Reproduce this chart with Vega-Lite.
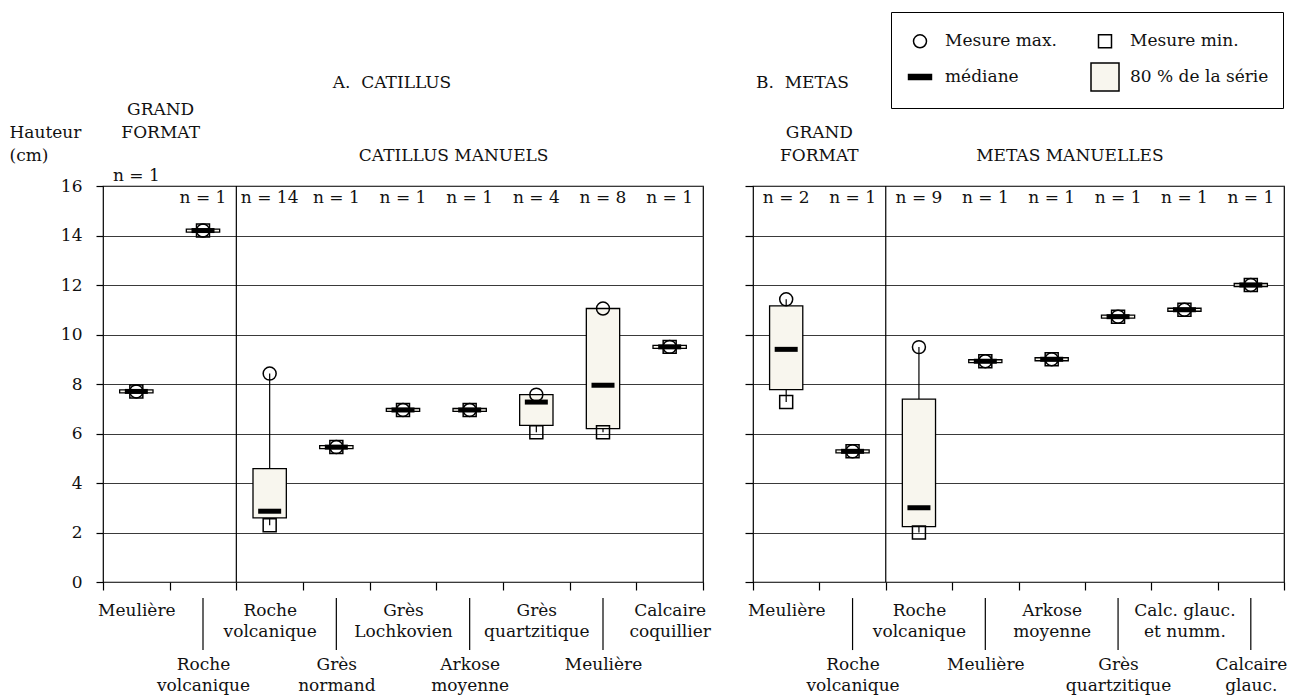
{
  "$schema": "https://vega.github.io/schema/vega-lite/v6.json",
  "background": "white",
  "padding": {"left": 8, "top": 10, "right": 4, "bottom": 4},
  "config": {
    "font": "DejaVu Serif",
    "view": {"stroke": "black", "strokeWidth": 1.2},
    "axis": {"labelFont": "DejaVu Serif", "titleFont": "DejaVu Serif", "labelColor": "#111", "titleColor": "#111", "tickColor": "black", "labelFontSize": 17, "titleFontSize": 17, "titleFontWeight": "normal", "gridColor": "#3a3a3a", "gridOpacity": 1, "domain": false},
    "legend": {"labelFont": "DejaVu Serif"},
    "text": {"font": "DejaVu Serif", "fontSize": 17, "color": "#111"}
  },
  "datasets": {
    "catillus": [
      {"cat": "1|Meulière", "pos": 1, "nlab": "n = 1", "max": 7.7, "min": 7.7, "lo": 7.64, "hi": 7.76, "med": 7.7},
      {"cat": "2|Roche|volcanique", "pos": 2, "nlab": "n = 1", "max": 14.2, "min": 14.2, "lo": 14.14, "hi": 14.26, "med": 14.2},
      {"cat": "3|Roche|volcanique", "pos": 3, "nlab": "n = 14", "max": 8.42, "min": 2.29, "lo": 2.59, "hi": 4.58, "med": 2.86},
      {"cat": "4|Grès|normand", "pos": 4, "nlab": "n = 1", "max": 5.45, "min": 5.45, "lo": 5.39, "hi": 5.51, "med": 5.45},
      {"cat": "5|Grès|Lochkovien", "pos": 5, "nlab": "n = 1", "max": 6.95, "min": 6.95, "lo": 6.89, "hi": 7.01, "med": 6.95},
      {"cat": "6|Arkose|moyenne", "pos": 6, "nlab": "n = 1", "max": 6.95, "min": 6.95, "lo": 6.89, "hi": 7.01, "med": 6.95},
      {"cat": "7|Grès|quartzitique", "pos": 7, "nlab": "n = 4", "max": 7.57, "min": 6.05, "lo": 6.33, "hi": 7.57, "med": 7.27},
      {"cat": "8|Meulière", "pos": 8, "nlab": "n = 8", "max": 11.05, "min": 6.05, "lo": 6.2, "hi": 11.05, "med": 7.95},
      {"cat": "9|Calcaire|coquillier", "pos": 9, "nlab": "n = 1", "max": 9.5, "min": 9.5, "lo": 9.44, "hi": 9.56, "med": 9.5}
    ],
    "metas": [
      {"cat": "1|Meulière", "pos": 1, "nlab": "n = 2", "max": 11.42, "min": 7.27, "lo": 7.77, "hi": 11.16, "med": 9.4},
      {"cat": "2|Roche|volcanique", "pos": 2, "nlab": "n = 1", "max": 5.28, "min": 5.28, "lo": 5.22, "hi": 5.34, "med": 5.28},
      {"cat": "3|Roche|volcanique", "pos": 3, "nlab": "n = 9", "max": 9.49, "min": 2.0, "lo": 2.24, "hi": 7.39, "med": 3.0},
      {"cat": "4|Meulière", "pos": 4, "nlab": "n = 1", "max": 8.92, "min": 8.92, "lo": 8.86, "hi": 8.98, "med": 8.92},
      {"cat": "5|Arkose|moyenne", "pos": 5, "nlab": "n = 1", "max": 9.0, "min": 9.0, "lo": 8.94, "hi": 9.06, "med": 9.0},
      {"cat": "6|Grès|quartzitique", "pos": 6, "nlab": "n = 1", "max": 10.72, "min": 10.72, "lo": 10.66, "hi": 10.78, "med": 10.72},
      {"cat": "7|Calc. glauc.|et numm.", "pos": 7, "nlab": "n = 1", "max": 11.0, "min": 11.0, "lo": 10.94, "hi": 11.06, "med": 11.0},
      {"cat": "8|Calcaire|glauc.", "pos": 8, "nlab": "n = 1", "max": 12.0, "min": 12.0, "lo": 11.94, "hi": 12.06, "med": 12.0}
    ]
  },
  "bounds": "flush",
  "spacing": 50,
  "resolve": {"scale": {"fill": "independent", "shape": "independent"}, "legend": {"fill": "independent", "shape": "independent"}},
  "hconcat": [
    {
      "width": 600,
      "height": 396,
      "data": {"name": "catillus"},
      "encoding": {
        "x": {"field": "cat", "type": "nominal", "scale": {"type": "band", "paddingInner": 0, "paddingOuter": 0},
          "axis": {"title": null, "tickBand": "extent", "tickSize": 8, "tickWidth": 1.2, "labelAngle": 0, "labelOverlap": false,
            "labelExpr": "slice(split(datum.value, '|'), 1)", "labelBaseline": "top", "labelLineHeight": 21,
            "labelPadding": {"condition": {"test": "toNumber(split(datum.value, '|')[0]) % 2 == 0", "value": 66}, "value": 12}}}
      },
      "layer": [
        {"mark": {"type": "rule", "color": "black", "strokeWidth": 1.2},
         "encoding": {"y": {"field": "min", "type": "quantitative", "scale": {"domain": [0, 16], "nice": false},
            "axis": {"values": [0, 2, 4, 6, 8, 10, 12, 14, 16], "grid": true, "tickSize": 7, "tickWidth": 1.2, "labelPadding": 14,
              "title": ["Hauteur", "(cm)"], "titleAngle": 0, "titleAlign": "left", "titleBaseline": "top", "titleX": -94, "titleY": -62, "titleLineHeight": 23}},
           "y2": {"field": "max"}}},
        {"data": {"values": [{"cat": "3|Roche|volcanique"}]},
         "mark": {"type": "rule", "color": "black", "strokeWidth": 1.2},
         "encoding": {"x": {"field": "cat", "type": "nominal", "bandPosition": 0}}},
        {"mark": {"type": "bar", "width": {"band": 0.5}, "fill": "#f8f6ee", "stroke": "black", "strokeWidth": 1.3},
         "encoding": {"y": {"field": "lo", "type": "quantitative"}, "y2": {"field": "hi"}}},
        {"mark": {"type": "tick", "color": "black", "opacity": 1, "size": 23, "thickness": 5},
         "encoding": {"y": {"field": "med", "type": "quantitative"}}},
        {"mark": {"type": "point", "shape": "M-0.464,-0.464H0.464V0.464H-0.464Z", "size": 784, "filled": false, "stroke": "black", "strokeWidth": 1.5, "opacity": 1},
         "encoding": {"y": {"field": "min", "type": "quantitative"}}},
        {"mark": {"type": "point", "shape": "M0.464,0A0.464,0.464,0,1,1,-0.464,0A0.464,0.464,0,1,1,0.464,0Z", "size": 784, "filled": false, "stroke": "black", "strokeWidth": 1.5, "opacity": 1},
         "encoding": {"y": {"field": "max", "type": "quantitative"}}},
        {"transform": [{"filter": "datum.pos != 1"}],
         "mark": {"type": "text", "baseline": "middle"},
         "encoding": {"text": {"field": "nlab"}, "y": {"datum": 15.5, "type": "quantitative"}}},
        {"transform": [{"filter": "datum.pos == 1"}],
         "mark": {"type": "text", "baseline": "middle"},
         "encoding": {"text": {"field": "nlab"}, "y": {"datum": 16.4, "type": "quantitative"}}},
        {"transform": [{"filter": "datum.pos % 2 == 0"}],
         "mark": {"type": "rule", "color": "black", "strokeWidth": 1.2, "clip": false},
         "encoding": {"y": {"datum": -0.65, "type": "quantitative"}, "y2": {"datum": -2.75}}},
        {"data": {"values": [{}]},
         "mark": {"type": "text", "text": "GRAND\nFORMAT", "lineBreak": "\n", "baseline": "top", "lineHeight": 23, "dx": -9},
         "encoding": {"x": {"datum": "1|Meulière", "type": "nominal", "bandPosition": 1}, "y": {"datum": 19.39, "type": "quantitative"}}},
        {"data": {"values": [{}]},
         "mark": {"type": "text", "text": "CATILLUS MANUELS", "baseline": "middle", "dx": -16},
         "encoding": {"x": {"datum": "6|Arkose|moyenne", "type": "nominal"}, "y": {"datum": 17.2, "type": "quantitative"}}},
        {"data": {"values": [{}]},
         "mark": {"type": "text", "text": "A.\u00a0\u00a0CATILLUS", "baseline": "middle", "dx": -11},
         "encoding": {"x": {"datum": "5|Grès|Lochkovien", "type": "nominal"}, "y": {"datum": 20.15, "type": "quantitative"}}}
      ]
    },
    {
      "width": 531,
      "height": 396,
      "data": {"name": "metas"},
      "encoding": {
        "x": {"field": "cat", "type": "nominal", "scale": {"type": "band", "paddingInner": 0, "paddingOuter": 0},
          "axis": {"title": null, "tickBand": "extent", "tickSize": 8, "tickWidth": 1.2, "labelAngle": 0, "labelOverlap": false,
            "labelExpr": "slice(split(datum.value, '|'), 1)", "labelBaseline": "top", "labelLineHeight": 21,
            "labelPadding": {"condition": {"test": "toNumber(split(datum.value, '|')[0]) % 2 == 0", "value": 66}, "value": 12}}}
      },
      "layer": [
        {"mark": {"type": "rule", "color": "black", "strokeWidth": 1.2},
         "encoding": {"y": {"field": "min", "type": "quantitative", "scale": {"domain": [0, 16], "nice": false},
            "axis": {"values": [0, 2, 4, 6, 8, 10, 12, 14, 16], "grid": true, "tickSize": 8, "tickWidth": 1.2, "labels": false, "title": null}},
           "y2": {"field": "max"}}},
        {"data": {"values": [{"cat": "3|Roche|volcanique"}]},
         "mark": {"type": "rule", "color": "black", "strokeWidth": 1.2},
         "encoding": {"x": {"field": "cat", "type": "nominal", "bandPosition": 0}}},
        {"mark": {"type": "bar", "width": {"band": 0.5}, "stroke": "black", "strokeWidth": 1.3},
         "encoding": {"y": {"field": "lo", "type": "quantitative"}, "y2": {"field": "hi"},
           "fill": {"datum": "80 % de la série", "type": "nominal",
             "scale": {"domain": ["Mesure max.", "médiane", "Mesure min.", "80 % de la série"], "range": ["transparent", "black", "transparent", "#f8f6ee"]},
             "legend": {"orient": "none", "legendX": 138, "legendY": -174, "columns": 2, "title": null, "strokeColor": "black", "padding": 14,
               "labelFont": "DejaVu Serif", "labelFontSize": 17, "labelColor": "#111", "labelOffset": 10, "columnPadding": 31, "rowPadding": 9,
               "symbolSize": 784, "symbolStrokeColor": "black", "symbolStrokeWidth": 1.5, "labelLimit": 0}}}},
        {"mark": {"type": "tick", "color": "black", "opacity": 1, "size": 23, "thickness": 5},
         "encoding": {"y": {"field": "med", "type": "quantitative"}, "fill": {"datum": "médiane", "type": "nominal"}}},
        {"mark": {"type": "point", "size": 784, "filled": false, "stroke": "black", "strokeWidth": 1.5, "opacity": 1},
         "encoding": {"y": {"field": "min", "type": "quantitative"},
           "fill": {"datum": "Mesure min.", "type": "nominal"},
           "shape": {"datum": "Mesure min.", "type": "nominal",
             "scale": {"domain": ["Mesure max.", "médiane", "Mesure min.", "80 % de la série"],
               "range": ["M0.464,0A0.464,0.464,0,1,1,-0.464,0A0.464,0.464,0,1,1,0.464,0Z", "M-0.82,-0.18H0.82V0.18H-0.82Z", "M-0.464,-0.464H0.464V0.464H-0.464Z", "square"]},
             "legend": {"orient": "none", "legendX": 138, "legendY": -174, "columns": 2, "title": null, "strokeColor": "black", "padding": 14,
               "labelFont": "DejaVu Serif", "labelFontSize": 17, "labelColor": "#111", "labelOffset": 10, "columnPadding": 31, "rowPadding": 9,
               "symbolSize": 784, "symbolStrokeColor": "black", "symbolStrokeWidth": 1.5, "labelLimit": 0}}}},
        {"mark": {"type": "point", "size": 784, "filled": false, "stroke": "black", "strokeWidth": 1.5, "opacity": 1},
         "encoding": {"y": {"field": "max", "type": "quantitative"},
           "fill": {"datum": "Mesure max.", "type": "nominal"},
           "shape": {"datum": "Mesure max.", "type": "nominal"}}},
        {"mark": {"type": "text", "baseline": "middle"},
         "encoding": {"text": {"field": "nlab"}, "y": {"datum": 15.5, "type": "quantitative"}}},
        {"transform": [{"filter": "datum.pos % 2 == 0"}],
         "mark": {"type": "rule", "color": "black", "strokeWidth": 1.2, "clip": false},
         "encoding": {"y": {"datum": -0.65, "type": "quantitative"}, "y2": {"datum": -2.75}}},
        {"data": {"values": [{}]},
         "mark": {"type": "text", "text": "GRAND\nFORMAT", "lineBreak": "\n", "baseline": "top", "lineHeight": 23},
         "encoding": {"x": {"datum": "1|Meulière", "type": "nominal", "bandPosition": 1}, "y": {"datum": 18.46, "type": "quantitative"}}},
        {"data": {"values": [{}]},
         "mark": {"type": "text", "text": "METAS MANUELLES", "baseline": "middle", "dx": -15},
         "encoding": {"x": {"datum": "6|Grès|quartzitique", "type": "nominal", "bandPosition": 0}, "y": {"datum": 17.2, "type": "quantitative"}}},
        {"data": {"values": [{}]},
         "mark": {"type": "text", "text": "B.\u00a0\u00a0METAS", "baseline": "middle", "align": "left", "dx": 3},
         "encoding": {"x": {"datum": "1|Meulière", "type": "nominal", "bandPosition": 0}, "y": {"datum": 20.15, "type": "quantitative"}}}
      ]
    }
  ]
}
